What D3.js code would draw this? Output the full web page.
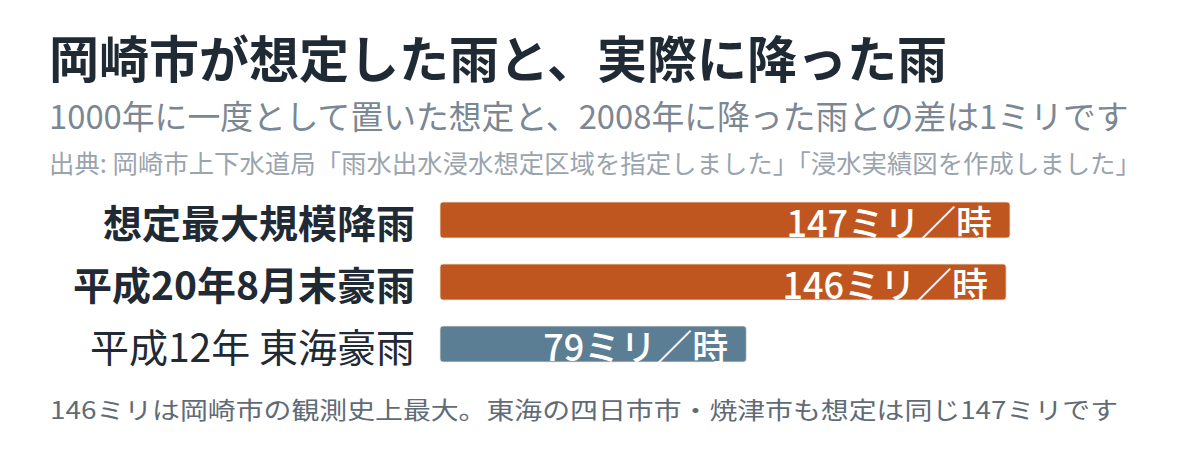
<!DOCTYPE html>
<html><head><meta charset="utf-8">
<script src="https://cdn.jsdelivr.net/npm/d3@7"></script>
<style>
html,body{margin:0;padding:0;background:#fff;}
svg{display:block;font-family:"Noto Sans CJK JP","Noto Sans",sans-serif;}
</style></head>
<body>
<script>
const categories = ["想定最大規模降雨", "平成20年8月末豪雨", "平成12年 東海豪雨"];
const values = [147, 146, 79];
const valueLabels = ["147ミリ／時", "146ミリ／時", "79ミリ／時"];
const boldLabel = [true, true, false];
const barColors = ["#c0561f", "#c0561f", "#5b7e94"];
const title = "岡崎市が想定した雨と、実際に降った雨";
const subtitle = "1000年に一度として置いた想定と、2008年に降った雨との差は1ミリです";
const source = "出典: 岡崎市上下水道局「雨水出水浸水想定区域を指定しました」「浸水実績図を作成しました」";
const note = "146ミリは岡崎市の観測史上最大。東海の四日市市・焼津市も想定は同じ147ミリです";

const W = 1200, H = 452;
const svg = d3.select("body").append("svg").attr("width", W).attr("height", H);

svg.append("text").attr("x", 49).attr("y", 78).attr("font-size", 50).attr("font-weight", 700)
  .attr("fill", "#1f2a35").text(title);
svg.append("text").attr("x", 49).attr("y", 129).attr("font-size", 32.8).attr("font-weight", 400)
  .attr("fill", "#7b8793").text(subtitle);
svg.append("text").attr("x", 49).attr("y", 173).attr("font-size", 25.4).attr("font-weight", 400)
  .attr("fill", "#9aa4ae").text(source);

const x = d3.scaleLinear().domain([0, 147]).range([440, 1010]);
const y = d3.scaleBand().domain(categories).range([189, 375]).paddingInner(26/62).paddingOuter(13/62);

const g = svg.append("g");
g.selectAll("rect.bar").data(categories).join("rect").attr("class","bar")
  .attr("x", x(0)).attr("y", d => y(d))
  .attr("width", (d,i) => x(values[i]) - x(0)).attr("height", y.bandwidth())
  .attr("rx", 3).attr("fill", (d,i) => barColors[i])
  .attr("stroke", "#f2e6e0").attr("stroke-width", 0.8);

g.selectAll("text.val").data(categories).join("text").attr("class","val")
  .attr("x", (d,i) => x(values[i]) - 18).attr("y", d => y(d) + y.bandwidth()/2 + 1)
  .attr("text-anchor", "end").attr("dominant-baseline", "central")
  .attr("font-size", 36).attr("font-weight", 500).attr("fill", "#fff")
  .text((d,i) => valueLabels[i]);

g.selectAll("text.cat").data(categories).join("text").attr("class","cat")
  .attr("x", 415).attr("y", d => y(d) + y.bandwidth()/2 + 1)
  .attr("text-anchor", "end").attr("dominant-baseline", "central")
  .attr("font-size", 39).attr("font-weight", (d,i) => boldLabel[i] ? 700 : 400)
  .attr("fill", "#1f2a35").text(d => d);

svg.append("text").attr("x", 50).attr("y", 419).attr("font-size", 24).attr("font-weight", 400)
  .attr("textLength", 1068).attr("lengthAdjust", "spacingAndGlyphs")
  .attr("fill", "#5f6b77").text(note);
</script>
</body></html>
